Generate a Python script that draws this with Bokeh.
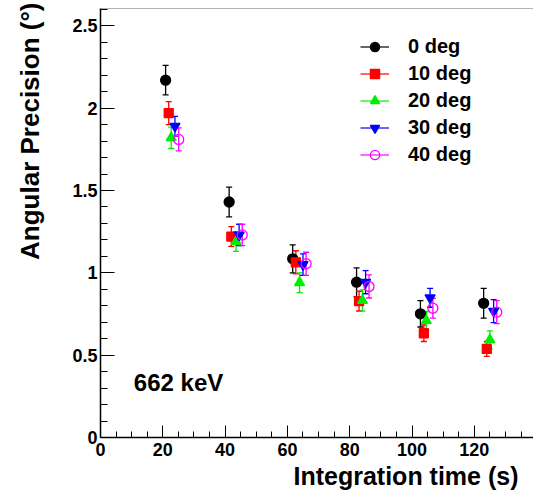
from bokeh.plotting import figure
from bokeh.models import (ColumnDataSource, Whisker, TeeHead, Legend, LegendItem,
                          SingleIntervalTicker, Title, Label, Range1d, Span)
from bokeh.embed import file_html
from bokeh.resources import INLINE

# ---- data ----
labels = ["0 deg", "10 deg", "20 deg", "30 deg", "40 deg"]
colors = ["#000000", "#ff0000", "#00ee00", "#0000ff", "#ff00ff"]
markers = ["circle", "square", "triangle", "inverted_triangle", "circle"]
filled = [True, True, True, True, False]

x_0 = [20.9, 41.3, 61.7, 82.2, 102.7, 123.0]
y_0 = [2.17, 1.43, 1.085, 0.943, 0.751, 0.815]
e_0 = [0.09, 0.09, 0.085, 0.087, 0.08, 0.09]

x_10 = [21.9, 42.0, 62.7, 83.0, 103.8, 124.0]
y_10 = [1.97, 1.22, 1.064, 0.828, 0.633, 0.538]
e_10 = [0.07, 0.06, 0.07, 0.06, 0.05, 0.045]

x_20 = [22.7, 43.5, 63.9, 84.1, 104.6, 125.0]
y_20 = [1.82, 1.19, 0.94, 0.832, 0.71, 0.593]
e_20 = [0.065, 0.06, 0.06, 0.065, 0.055, 0.055]

x_30 = [23.9, 44.5, 65.0, 85.1, 105.8, 126.2]
y_30 = [1.89, 1.23, 1.05, 0.943, 0.848, 0.767]
e_30 = [0.06, 0.065, 0.065, 0.07, 0.057, 0.07]

x_40 = [25.1, 45.5, 66.0, 86.2, 106.7, 127.2]
y_40 = [1.81, 1.23, 1.055, 0.917, 0.785, 0.761]
e_40 = [0.07, 0.065, 0.07, 0.07, 0.06, 0.07]

series_x = [x_0, x_10, x_20, x_30, x_40]
series_y = [y_0, y_10, y_20, y_30, y_40]
series_e = [e_0, e_10, e_20, e_30, e_40]

FONT = "Liberation Sans"
Y_MAX = 2.605

p = figure(width=533, height=493, output_backend="svg", toolbar_location=None,
           x_range=Range1d(0, 139), y_range=Range1d(0, Y_MAX),
           min_border_left=97, min_border_right=0, min_border_top=8,
           min_border_bottom=56)
p.grid.visible = False
p.outline_line_color = None
p.background_fill_color = "white"
p.border_fill_color = "white"

# top frame line
p.add_layout(Span(location=Y_MAX, dimension="width", line_color="#666666",
                  line_width=1.2))

# axes
p.xaxis.ticker = SingleIntervalTicker(interval=20, num_minor_ticks=4)
p.yaxis.ticker = SingleIntervalTicker(interval=0.5, num_minor_ticks=5)
for ax in (p.xaxis[0], p.yaxis[0]):
    ax.axis_line_color = "black"
    ax.axis_line_width = 1.5
    ax.major_tick_line_color = "black"
    ax.minor_tick_line_color = "black"
    ax.major_tick_out = 0
    ax.minor_tick_out = 0
    ax.major_label_text_font = FONT
    ax.major_label_text_font_style = "bold"
    ax.major_label_text_font_size = "18px"
    ax.major_label_text_color = "black"
p.xaxis.major_tick_in = 12
p.xaxis.minor_tick_in = 6
p.yaxis.major_tick_in = 14
p.yaxis.minor_tick_in = 7
p.xaxis.major_label_standoff = 5
p.yaxis.major_label_standoff = 3
p.yaxis.major_label_overrides = {0: "0", 0.5: "0.5", 1: "1", 1.5: "1.5", 2: "2", 2.5: "2.5"}
# blank spacer label: widens the y-axis panel so the title sits further left
p.yaxis.axis_label = " "
p.yaxis.axis_label_text_font_size = "8px"
p.yaxis.axis_label_standoff = 0

items = []
for lab, col, mk, fill, xs, ys, es in zip(labels, colors, markers, filled,
                                          series_x, series_y, series_e):
    src = ColumnDataSource(dict(x=xs, y=ys,
                                lo=[a - b for a, b in zip(ys, es)],
                                hi=[a + b for a, b in zip(ys, es)]))
    wh = Whisker(base="x", upper="hi", lower="lo", source=src,
                 line_color=col, line_width=1.3, dimension="height",
                 upper_head=TeeHead(size=6, line_color=col, line_width=1.3),
                 lower_head=TeeHead(size=6, line_color=col, line_width=1.3))
    p.add_layout(wh)
    size = 10 if mk != "square" else 9
    r = p.scatter("x", "y", source=src, marker=mk, size=size,
                  fill_color=col if fill else None, line_color=col,
                  line_width=1.3)
    # single-point line: draws nothing in the plot, gives the legend its line
    lr = p.line(x=xs[:1], y=ys[:1], line_color=col, line_width=1.2)
    items.append(LegendItem(label=lab, renderers=[lr, r]))

legend = Legend(items=items, location=(255, 266), orientation="vertical",
                background_fill_alpha=0, border_line_alpha=0,
                label_text_font=FONT, label_text_font_style="bold",
                label_text_font_size="20px", label_text_color="black",
                glyph_width=29, glyph_height=23, label_height=23,
                label_standoff=19, spacing=4, padding=5, margin=0)
p.add_layout(legend)

p.add_layout(Label(x=10.7, y=0.336, text="662 keV", text_font=FONT,
                   text_font_style="bold", text_font_size="24px",
                   text_baseline="alphabetic", text_color="black"))

p.add_layout(Title(text="Integration time (s)", align="right", offset=15,
                   standoff=2, text_font=FONT, text_font_style="bold",
                   text_font_size="25px", text_color="black"), "below")
p.add_layout(Title(text="Angular Precision (°)", align="right", offset=-6,
                   standoff=25, text_font=FONT, text_font_style="bold",
                   text_font_size="26px", text_color="black"), "left")

open("out.html", "w").write(file_html(p, INLINE))
